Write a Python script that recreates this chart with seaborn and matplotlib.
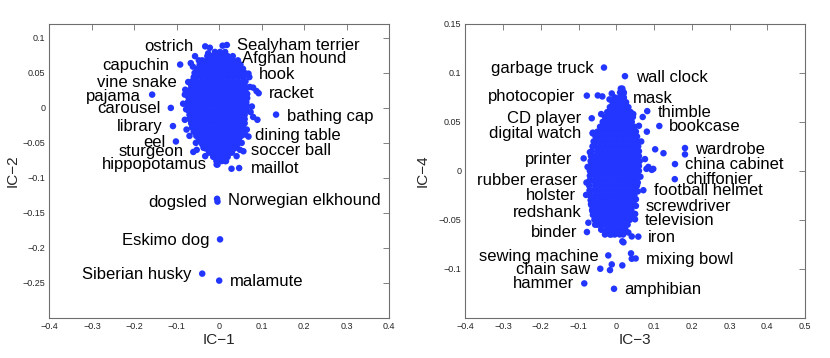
import numpy as np
import pandas as pd
import matplotlib
matplotlib.use("Agg")
import matplotlib.pyplot as plt
from matplotlib.ticker import FuncFormatter
import seaborn as sns

# ---- sol panel: IC-1 / IC-2, isimli noktalar ----
left_names = ["ostrich", "Sealyham terrier", "capuchin", "Afghan hound", "hook",
              "vine snake", "pajama", "racket", "carousel", "bathing cap", "library",
              "dining table", "eel", "sturgeon", "soccer ball", "hippopotamus", "maillot",
              "dogsled", "Norwegian elkhound", "Eskimo dog", "Siberian husky", "malamute"]
left_ic1 = [-0.033, 0.018, -0.092, 0.028, 0.069, -0.073, -0.158, 0.093, -0.114, 0.134, -0.109,
            0.061, -0.102, -0.061, 0.049, -0.004, 0.047, -0.005, -0.004, 0.002, -0.040, 0.000]
left_ic2 = [0.088, 0.090, 0.062, 0.070, 0.049, 0.037, 0.019, 0.021, 0.000, -0.0096, -0.026,
            -0.038, -0.048, -0.063, -0.060, -0.081, -0.086, -0.130, -0.134, -0.188, -0.237, -0.247]

# isimsiz kenar noktalari
left_extra_ic1 = [-0.022, 0.008, -0.057, -0.026, -0.018, -0.067, -0.062, 0.033, 0.066, 0.071,
                  -0.081, -0.073, 0.080, 0.088, -0.085, -0.078, 0.077, 0.080, 0.090, -0.081,
                  -0.077, -0.070, 0.065, 0.069, -0.055, -0.053, 0.041, 0.053, 0.057, -0.037,
                  -0.033, 0.006, 0.014, -0.014, -0.006, 0.041, -0.006, 0.029, -0.065,
                  0.072, 0.074, -0.080, -0.048, 0.046, -0.043]
left_extra_ic2 = [0.086, 0.089, 0.074, 0.078, 0.074, 0.064, 0.059, 0.064, 0.048, 0.044,
                  0.019, 0.017, 0.029, 0.024, 0.006, -0.002, 0.002, -0.013, -0.017, -0.017,
                  -0.031, -0.040, -0.031, -0.041, -0.050, -0.060, -0.055, -0.050, -0.062, -0.057,
                  -0.069, -0.071, -0.076, -0.069, -0.076, -0.069, -0.081, -0.087, 0.037,
                  0.030, -0.006, 0.026, 0.068, 0.062, -0.047]

# yogun orta bolge (satir satir okunan noktalar)
left_core_ic2 = [0.080, 0.074, 0.068, 0.062, 0.056, 0.050, 0.044, 0.038, 0.032, 0.026,
                 0.020, 0.014, 0.008, 0.002, -0.004, -0.010, -0.016, -0.022, -0.028, -0.034,
                 -0.040, -0.046, -0.052, -0.058, -0.064, -0.070, -0.076]
left_core_ic1 = [
    [-0.010, 0.002, 0.014],
    [-0.028, -0.016, -0.004, 0.008, 0.020, 0.032],
    [-0.040, -0.028, -0.016, -0.004, 0.008, 0.020, 0.032, 0.044],
    [-0.046, -0.034, -0.022, -0.010, 0.002, 0.014, 0.026, 0.038, 0.050],
    [-0.052, -0.040, -0.028, -0.016, -0.004, 0.008, 0.020, 0.032, 0.044, 0.056],
    [-0.058, -0.046, -0.034, -0.022, -0.010, 0.002, 0.014, 0.026, 0.038, 0.050, 0.060],
    [-0.060, -0.052, -0.040, -0.028, -0.016, -0.004, 0.008, 0.020, 0.032, 0.044, 0.056],
    [-0.064, -0.052, -0.040, -0.028, -0.016, -0.004, 0.008, 0.020, 0.032, 0.044, 0.056, 0.062],
    [-0.066, -0.058, -0.046, -0.034, -0.022, -0.010, 0.002, 0.014, 0.026, 0.038, 0.050, 0.060],
    [-0.068, -0.056, -0.044, -0.032, -0.020, -0.008, 0.004, 0.016, 0.028, 0.040, 0.052, 0.062],
    [-0.070, -0.060, -0.048, -0.036, -0.024, -0.012, 0.000, 0.012, 0.024, 0.036, 0.048, 0.060, 0.066],
    [-0.072, -0.062, -0.050, -0.038, -0.026, -0.014, -0.002, 0.010, 0.022, 0.034, 0.046, 0.058, 0.066],
    [-0.074, -0.066, -0.054, -0.042, -0.030, -0.018, -0.006, 0.006, 0.018, 0.030, 0.042, 0.054, 0.064],
    [-0.074, -0.062, -0.050, -0.038, -0.026, -0.014, -0.002, 0.010, 0.022, 0.034, 0.046, 0.058, 0.066],
    [-0.072, -0.064, -0.052, -0.040, -0.028, -0.016, -0.004, 0.008, 0.020, 0.032, 0.044, 0.056, 0.064],
    [-0.070, -0.060, -0.048, -0.036, -0.024, -0.012, 0.000, 0.012, 0.024, 0.036, 0.048, 0.060],
    [-0.070, -0.058, -0.046, -0.034, -0.022, -0.010, 0.002, 0.014, 0.026, 0.038, 0.050, 0.060],
    [-0.066, -0.054, -0.042, -0.030, -0.018, -0.006, 0.006, 0.018, 0.030, 0.042, 0.054, 0.060],
    [-0.064, -0.052, -0.040, -0.028, -0.016, -0.004, 0.008, 0.020, 0.032, 0.044, 0.056],
    [-0.060, -0.048, -0.036, -0.024, -0.012, 0.000, 0.012, 0.024, 0.036, 0.048, 0.056],
    [-0.054, -0.042, -0.030, -0.018, -0.006, 0.006, 0.018, 0.030, 0.042, 0.052],
    [-0.048, -0.036, -0.024, -0.012, 0.000, 0.012, 0.024, 0.036, 0.046],
    [-0.040, -0.028, -0.016, -0.004, 0.008, 0.020, 0.032, 0.042],
    [-0.032, -0.020, -0.008, 0.004, 0.016, 0.028, 0.036],
    [-0.024, -0.012, 0.000, 0.012, 0.024, 0.030],
    [-0.014, -0.002, 0.010, 0.020],
    [-0.006, 0.006, 0.016],
]

# etiket yerleri (veri koordinati) ve hizalama
left_label_x = [-0.061, 0.041, -0.118, 0.053, 0.0945, -0.100, -0.1835, 0.118, -0.137, 0.159, -0.134,
                0.0844, -0.126, -0.0846, 0.074, -0.0295, 0.074, -0.0295, 0.0215, -0.024, -0.065, 0.0254]
left_label_y = [0.088, 0.089, 0.061, 0.070, 0.048, 0.036, 0.017, 0.020, -0.0005, -0.012, -0.027,
                -0.0396, -0.050, -0.063, -0.061, -0.0814, -0.0867, -0.1357, -0.132, -0.189, -0.238, -0.248]
left_label_ha = ["right", "left", "right", "left", "left", "right", "right", "left", "right", "left", "right",
                 "left", "right", "right", "left", "right", "left", "right", "left", "right", "right", "left"]

# ---- sag panel: IC-3 / IC-4 ----
right_names = ["garbage truck", "wall clock", "photocopier", "mask", "thimble", "CD player",
               "bookcase", "digital watch", "wardrobe", "printer", "china cabinet", "chiffonier",
               "rubber eraser", "football helmet", "holster", "screwdriver", "redshank", "television",
               "binder", "iron", "sewing machine", "mixing bowl", "chain saw", "hammer", "amphibian"]
right_ic3 = [-0.0326, 0.023, -0.078, 0.019, 0.082, -0.065, 0.114, -0.0626, 0.182, -0.0864, 0.1555,
             0.155, -0.079, 0.0717, -0.080, 0.052, -0.0625, 0.0496, -0.0777, 0.0584, -0.0212, 0.0514,
             -0.0424, -0.0848, -0.006]
right_ic4 = [0.1055, 0.0967, 0.0768, 0.073, 0.061, 0.0537, 0.0458, 0.0383, 0.0233, 0.0127, 0.0069,
             -0.0085, -0.012, -0.0198, -0.0246, -0.0358, -0.0416, -0.0495, -0.0625, -0.0672, -0.0864,
             -0.0895, -0.100, -0.115, -0.1205]

right_extra_ic3 = [-0.049, -0.037, -0.012, 0.012, 0.016, -0.018, 0.045, 0.070, 0.060, 0.081,
                   0.103, 0.125, 0.076, 0.085, 0.098, -0.070, -0.062, -0.040, -0.004, -0.067,
                   -0.074, -0.056, -0.039, -0.026, -0.013, 0.000, 0.016, 0.032, 0.041, 0.050,
                   0.052, 0.057, 0.080, 0.094, 0.057, 0.019, 0.182, 0.039, 0.041, -0.012,
                   -0.0167, 0.016, 0.019, 0.016, 0.066, -0.076, 0.064]
right_extra_ic4 = [0.077, 0.076, 0.079, 0.084, 0.082, 0.073, 0.058, 0.055, 0.046, 0.040,
                   0.022, 0.018, 0.012, 0.004, 0.002, 0.019, 0.039, 0.058, 0.067, -0.034,
                   -0.053, -0.055, -0.060, -0.063, -0.065, -0.063, -0.072, -0.063, -0.067, -0.044,
                   -0.029, -0.012, 0.002, 0.001, -0.021, -0.073, 0.0168, -0.0843, -0.0898, -0.0956,
                   -0.1014, -0.0966, 0.079, 0.084, 0.030, 0.004, -0.006]

right_core_ic4 = [0.080, 0.075, 0.070, 0.065, 0.060, 0.055, 0.050, 0.045, 0.040, 0.035,
                  0.030, 0.025, 0.020, 0.015, 0.010, 0.005, 0.000, -0.005, -0.010, -0.015,
                  -0.020, -0.025, -0.030, -0.035, -0.040, -0.045, -0.050, -0.055, -0.060, -0.065]
right_core_ic3 = [
    [0.010, 0.020],
    [-0.004, 0.009, 0.020],
    [-0.010, 0.003, 0.016, 0.026],
    [-0.017, -0.004, 0.009, 0.022, 0.032],
    [-0.024, -0.011, 0.002, 0.015, 0.028, 0.038],
    [-0.030, -0.017, -0.004, 0.009, 0.022, 0.035, 0.044],
    [-0.036, -0.024, -0.011, 0.002, 0.015, 0.028, 0.041],
    [-0.043, -0.030, -0.017, -0.004, 0.009, 0.022, 0.035, 0.048],
    [-0.050, -0.037, -0.024, -0.011, 0.002, 0.015, 0.028, 0.041, 0.052],
    [-0.055, -0.043, -0.030, -0.017, -0.004, 0.009, 0.022, 0.035, 0.048, 0.055],
    [-0.060, -0.050, -0.037, -0.024, -0.011, 0.002, 0.015, 0.028, 0.041, 0.054],
    [-0.063, -0.056, -0.043, -0.030, -0.017, -0.004, 0.009, 0.022, 0.035, 0.048, 0.058],
    [-0.065, -0.050, -0.037, -0.024, -0.011, 0.002, 0.015, 0.028, 0.041, 0.054, 0.060],
    [-0.067, -0.056, -0.043, -0.030, -0.017, -0.004, 0.009, 0.022, 0.035, 0.048, 0.060],
    [-0.068, -0.063, -0.050, -0.037, -0.024, -0.011, 0.002, 0.015, 0.028, 0.041, 0.054, 0.062],
    [-0.069, -0.056, -0.043, -0.030, -0.017, -0.004, 0.009, 0.022, 0.035, 0.048, 0.060],
    [-0.070, -0.063, -0.050, -0.037, -0.024, -0.011, 0.002, 0.015, 0.028, 0.041, 0.054, 0.060],
    [-0.070, -0.056, -0.043, -0.030, -0.017, -0.004, 0.009, 0.022, 0.035, 0.048, 0.058],
    [-0.071, -0.063, -0.050, -0.037, -0.024, -0.011, 0.002, 0.015, 0.028, 0.041, 0.054],
    [-0.072, -0.056, -0.043, -0.030, -0.017, -0.004, 0.009, 0.022, 0.035, 0.048, 0.055],
    [-0.071, -0.063, -0.050, -0.037, -0.024, -0.011, 0.002, 0.015, 0.028, 0.041, 0.052],
    [-0.070, -0.056, -0.043, -0.030, -0.017, -0.004, 0.009, 0.022, 0.035, 0.048],
    [-0.068, -0.063, -0.050, -0.037, -0.024, -0.011, 0.002, 0.015, 0.028, 0.041, 0.048],
    [-0.066, -0.056, -0.043, -0.030, -0.017, -0.004, 0.009, 0.022, 0.035, 0.046],
    [-0.064, -0.050, -0.037, -0.024, -0.011, 0.002, 0.015, 0.028, 0.040],
    [-0.062, -0.056, -0.043, -0.030, -0.017, -0.004, 0.009, 0.022, 0.035, 0.042],
    [-0.058, -0.050, -0.037, -0.024, -0.011, 0.002, 0.015, 0.028, 0.036],
    [-0.050, -0.043, -0.030, -0.017, -0.004, 0.009, 0.022, 0.030],
    [-0.040, -0.024, -0.011, 0.002, 0.015, 0.024],
    [-0.030, -0.017, -0.004, 0.009, 0.018],
]

right_label_x = [-0.059, 0.051, -0.107, 0.043, 0.110, -0.092, 0.140, -0.092, 0.2085, -0.1155, 0.182,
                 0.182, -0.103, 0.0999, -0.107, 0.0787, -0.0917, 0.076, -0.1033, 0.085, -0.0477, 0.0795,
                 -0.0697, -0.112, 0.021]
right_label_y = [0.105, 0.0957, 0.0762, 0.074, 0.060, 0.053, 0.045, 0.038, 0.0219, 0.0113, 0.0061,
                 -0.0085, -0.0095, -0.0205, -0.0249, -0.0365, -0.0426, -0.0505, -0.0631, -0.0676, -0.0877,
                 -0.0905, -0.1007, -0.1154, -0.1212]
right_label_ha = ["right", "left", "right", "left", "left", "right", "left", "right", "left", "right", "left",
                  "left", "right", "left", "right", "left", "right", "left", "right", "left", "right", "left",
                  "right", "right", "left"]

left_xticks = [-0.4, -0.3, -0.2, -0.1, 0, 0.1, 0.2, 0.3, 0.4]
left_yticks = [-0.25, -0.2, -0.15, -0.1, -0.05, 0, 0.05, 0.1]
right_xticks = [-0.4, -0.3, -0.2, -0.1, 0, 0.1, 0.2, 0.3, 0.4, 0.5]
right_yticks = [-0.1, -0.05, 0, 0.05, 0.1, 0.15]

NOKTA_RENK = "#2236ff"
CERCEVE = "#6e6e6e"


def tablo(core_y, core_x, extra_x, extra_y, named_x, named_y):
    xs, ys = [], []
    for y, row in zip(core_y, core_x):
        for x in row:
            xs.append(x)
            ys.append(y)
    xs += list(extra_x) + list(named_x)
    ys += list(extra_y) + list(named_y)
    return pd.DataFrame({"a": xs, "b": ys})


def fmt(v, pos):
    s = "%g" % v
    return s.replace("-", "\u2212")


def panel(ax, df, names, lx, ly, ha, xlim, ylim, xticks, yticks, xlab, ylab, ylab_x):
    sns.scatterplot(data=df, x="a", y="b", ax=ax, color=NOKTA_RENK, s=22,
                    linewidth=0, edgecolor="none", legend=False)
    for n, tx, ty, h in zip(names, lx, ly, ha):
        ax.text(tx, ty, n, ha=h, va="center", fontsize=12, color="black")
    ax.set_xlim(*xlim)
    ax.set_ylim(*ylim)
    ax.set_xticks(xticks)
    ax.set_yticks(yticks)
    ax.xaxis.set_major_formatter(FuncFormatter(fmt))
    ax.yaxis.set_major_formatter(FuncFormatter(fmt))
    ax.tick_params(direction="in", top=True, right=True, length=4, width=0.6,
                   color=CERCEVE, labelsize=6.5, pad=3)
    for sp in ax.spines.values():
        sp.set_visible(True)
        sp.set_color(CERCEVE)
        sp.set_linewidth(0.8)
    ax.set_xlabel(xlab, fontsize=11)
    ax.set_ylabel(ylab, fontsize=11)
    ax.xaxis.set_label_coords(0.5, -0.052)
    ax.yaxis.set_label_coords(ylab_x, 0.5)


sns.set_theme(style="white")
plt.rcParams["font.family"] = ["Liberation Sans", "DejaVu Sans"]
plt.rcParams["axes.unicode_minus"] = True

fig = plt.figure(figsize=(8.3, 3.58), dpi=100)
ax1 = fig.add_axes([0.0596, 0.1126, 0.409, 0.8204])
ax2 = fig.add_axes([0.5606, 0.1126, 0.4093, 0.8204])

df_sol = tablo(left_core_ic2, left_core_ic1, left_extra_ic1, left_extra_ic2, left_ic1, left_ic2)
df_sag = tablo(right_core_ic4, right_core_ic3, right_extra_ic3, right_extra_ic4, right_ic3, right_ic4)

panel(ax1, df_sol, left_names, left_label_x, left_label_y, left_label_ha,
      (-0.4, 0.4), (-0.3, 0.12), left_xticks, left_yticks, "IC\u22121", "IC\u22122", -0.087)
panel(ax2, df_sag, right_names, right_label_x, right_label_y, right_label_ha,
      (-0.4, 0.5), (-0.15, 0.15), right_xticks, right_yticks, "IC\u22123", "IC\u22124", -0.104)

fig.savefig("out.png", dpi=100)
